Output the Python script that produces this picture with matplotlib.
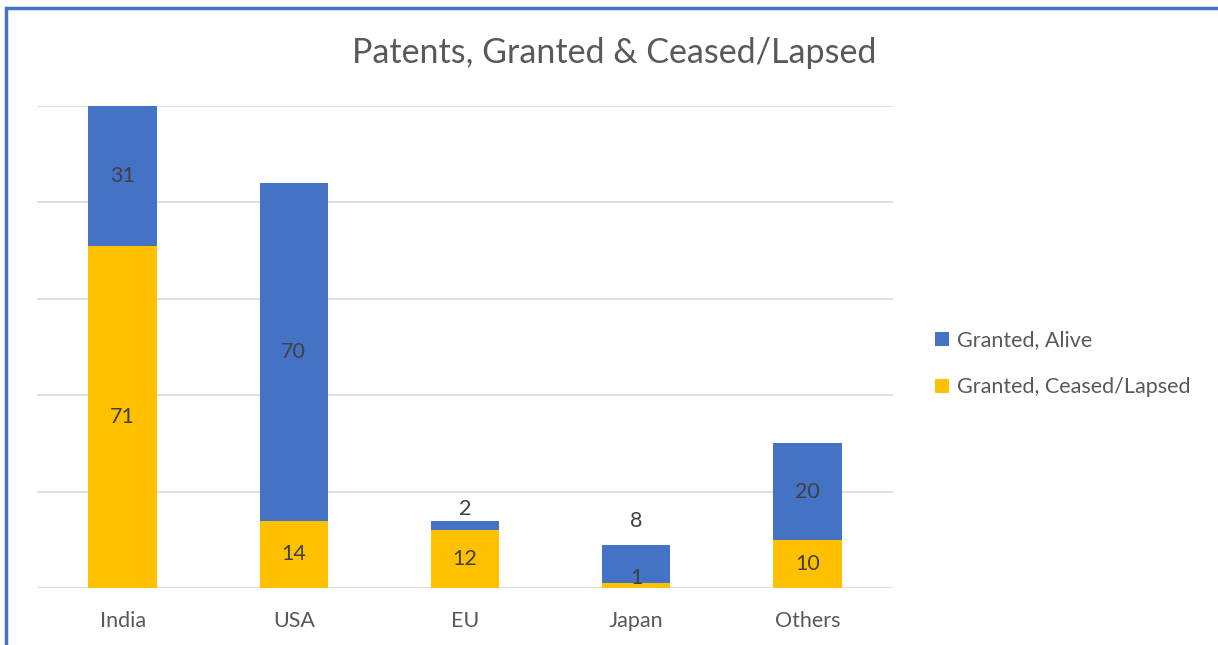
import numpy as np
import matplotlib.pyplot as plt
from matplotlib.patches import Rectangle

# data
countries = ['India', 'USA', 'EU', 'Japan', 'Others']
ceased = [71, 14, 12, 1, 10]
alive = [31, 70, 2, 8, 20]
# extra label nudges (pixels) where the labels sit off-centre
alive_nudge = [0, 0, 0, 0, 0]
ceased_nudge = [0, 0, 0, 8, 0]

blue = '#4472C4'
yellow = '#FFC000'
grey = '#595959'
dark = '#404040'
fs = 15.5

plt.rcParams['font.family'] = ['Lato', 'DejaVu Sans']

fig = plt.figure(figsize=(12.18, 6.45), dpi=100)
ax = fig.add_axes([37/1218, 57/645, (893-37)/1218, (588-106)/645])

x = np.arange(len(countries))
ceased = np.array(ceased)
alive = np.array(alive)
b1 = ax.bar(x, ceased, width=0.4, color=yellow, label='Granted, Ceased/Lapsed', zorder=3)
b2 = ax.bar(x, alive, width=0.4, bottom=ceased, color=blue, label='Granted, Alive', zorder=3)

ax.set_ylim(0, 100)
ax.set_xlim(-0.5, len(countries) - 0.5)
ax.set_yticks(np.arange(0, 101, 20))
ax.yaxis.grid(True, color='#d9d9d9', lw=1.2)
ax.set_axisbelow(True)
ax.tick_params(axis='y', left=False, labelleft=False)
ax.tick_params(axis='x', length=0, labelsize=fs, labelcolor=grey, pad=16.5)
ax.set_xticks(x)
ax.set_xticklabels(countries)
for s in ax.spines.values():
    s.set_visible(False)

for i in range(len(countries)):
    ax.annotate(str(ceased[i]), (x[i], ceased[i] / 2), xytext=(0, ceased_nudge[i]),
                textcoords='offset pixels', ha='center', va='center',
                fontsize=fs, color=dark, zorder=4)
    top = ceased[i] + alive[i]
    if alive[i] < 5:
        # small segment: label sits above the bar
        ax.annotate(str(alive[i]), (x[i], top), xytext=(0, 2),
                    textcoords='offset pixels', ha='center', va='bottom',
                    fontsize=fs, color=dark, zorder=4)
    elif alive[i] < 10:
        ax.annotate(str(alive[i]), (x[i], top), xytext=(0, 14),
                    textcoords='offset pixels', ha='center', va='bottom',
                    fontsize=fs, color=dark, zorder=4)
    else:
        ymid = ceased[i] + alive[i] / 2
        if top > 100:
            ymid = (ceased[i] + 100) / 2
        ax.annotate(str(alive[i]), (x[i], ymid), xytext=(0, alive_nudge[i]),
                    textcoords='offset pixels', ha='center', va='center',
                    fontsize=fs, color=dark, zorder=4)

fig.text(614/1218, 1 - 53/645, 'Patents, Granted & Ceased/Lapsed', ha='center',
         va='center', fontsize=24.5, color=grey)

leg = fig.legend(handles=[b2, b1], loc='upper left', bbox_to_anchor=(916/1218, 1 - 311/645),
                 frameon=False, fontsize=fs, labelcolor=grey, handlelength=0.65,
                 handleheight=0.65, handletextpad=0.35, labelspacing=1.25)

fig.patches.append(Rectangle((6/1218, -0.1), 1.2, 1 - 8/645 + 0.1, transform=fig.transFigure,
                             fill=False, edgecolor=blue, lw=2.5))

fig.savefig('out.png', dpi=100)
